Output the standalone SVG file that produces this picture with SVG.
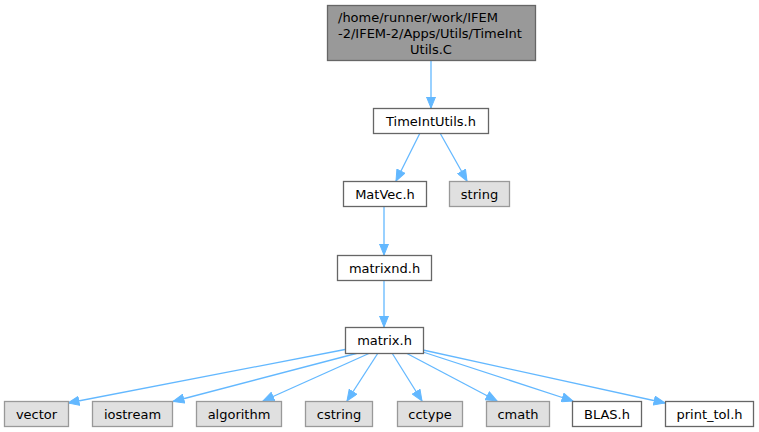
<svg xmlns="http://www.w3.org/2000/svg" width="759" height="432" viewBox="0 0 759 432">
<style>
text{font-family:"DejaVu Sans","Liberation Sans",sans-serif;font-size:13px;fill:#000}
.c{text-anchor:middle}
.w{fill:#ffffff;stroke:#666666;stroke-width:1.3}
.g{fill:#e0e0e0;stroke:#999999;stroke-width:1.3}
.r{fill:#999999;stroke:#666666;stroke-width:1.3}
.e{fill:none;stroke:#63b8ff;stroke-width:1.3;marker-end:url(#a)}
</style>
<defs>
<marker id="a" markerUnits="userSpaceOnUse" markerWidth="12" markerHeight="10" viewBox="0 0 12 10" refX="11.5" refY="5" orient="auto">
<path d="M0.5,0.5 L11.5,5 L0.5,9.5 z" fill="#63b8ff" stroke="#63b8ff"/>
</marker>
</defs>
<rect width="759" height="432" fill="#ffffff"/>
<g id="edges">
<path class="e" d="M431,60 L431,108"/>
<path class="e" d="M420,133 L396,181"/>
<path class="e" d="M440,133 L467,181"/>
<path class="e" d="M384,206 L384,255"/>
<path class="e" d="M384,280 L384,327"/>
<path class="e" d="M345,349.5 L68,403"/>
<path class="e" d="M358,353 L173,401.5"/>
<path class="e" d="M370,353 L263,401"/>
<path class="e" d="M378,353 L347,401"/>
<path class="e" d="M392,353 L422,401"/>
<path class="e" d="M406,353 L497,401"/>
<path class="e" d="M423,352 L573,401"/>
<path class="e" d="M423,350 L665,403"/>
</g>
<g id="root">
<rect class="r" x="327.5" y="5.5" width="208" height="55"/>
<text x="338" y="21.5">/home/runner/work/IFEM</text>
<text x="338" y="37.5">-2/IFEM-2/Apps/Utils/TimeInt</text>
<text class="c" x="431" y="53.5">Utils.C</text>
</g>
<g id="TimeIntUtils_h">
<rect class="w" x="373.5" y="108.5" width="115" height="25"/>
<text class="c" x="431" y="125.5">TimeIntUtils.h</text>
</g>
<g id="MatVec_h">
<rect class="w" x="343.5" y="181.5" width="83" height="25"/>
<text class="c" x="385" y="198.5">MatVec.h</text>
</g>
<g id="string">
<rect class="g" x="449.5" y="181.5" width="60" height="25"/>
<text class="c" x="479.5" y="198.5">string</text>
</g>
<g id="matrixnd_h">
<rect class="w" x="337.5" y="255.5" width="94" height="25"/>
<text class="c" x="384.5" y="272.5">matrixnd.h</text>
</g>
<g id="matrix_h">
<rect class="w" x="345.5" y="327.5" width="78" height="26"/>
<text class="c" x="384.5" y="345">matrix.h</text>
</g>
<g id="vector">
<rect class="g" x="4.5" y="401.5" width="64" height="25"/>
<text class="c" x="36.5" y="418.5">vector</text>
</g>
<g id="iostream">
<rect class="g" x="92.5" y="401.5" width="80" height="25"/>
<text class="c" x="132.5" y="418.5">iostream</text>
</g>
<g id="algorithm">
<rect class="g" x="196.5" y="401.5" width="85" height="25"/>
<text class="c" x="239" y="418.5">algorithm</text>
</g>
<g id="cstring">
<rect class="g" x="305.5" y="401.5" width="67" height="25"/>
<text class="c" x="339" y="418.5">cstring</text>
</g>
<g id="cctype">
<rect class="g" x="397.5" y="401.5" width="65" height="25"/>
<text class="c" x="430" y="418.5">cctype</text>
</g>
<g id="cmath">
<rect class="g" x="486.5" y="401.5" width="63" height="25"/>
<text class="c" x="518" y="418.5">cmath</text>
</g>
<g id="BLAS_h">
<rect class="w" x="572.5" y="401.5" width="69" height="25"/>
<text class="c" x="607" y="418.5">BLAS.h</text>
</g>
<g id="print_tol_h">
<rect class="w" x="665.5" y="401.5" width="88" height="25"/>
<text class="c" x="709.5" y="418.5">print_tol.h</text>
</g>
</svg>
